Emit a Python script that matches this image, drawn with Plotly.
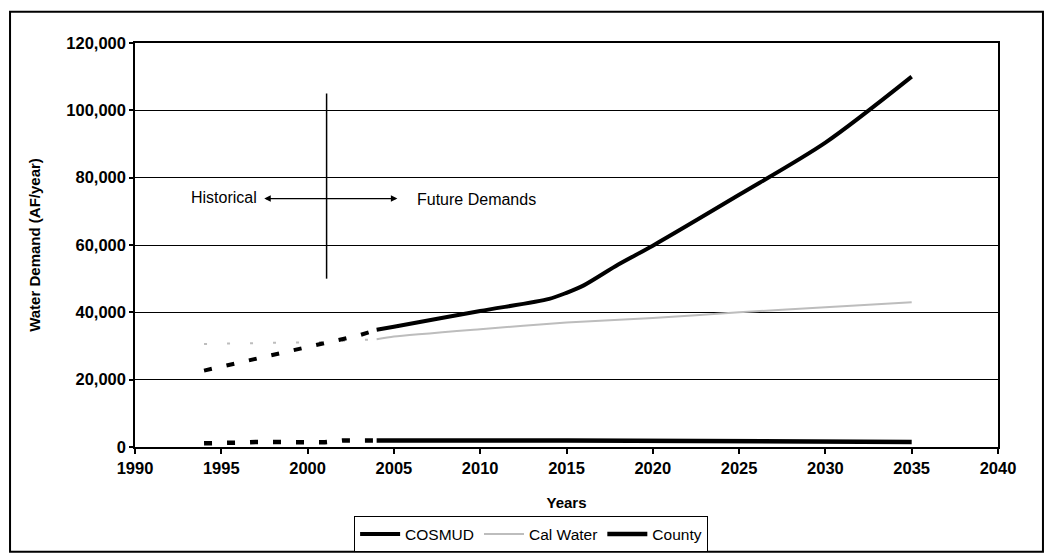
import plotly.graph_objects as go

# Historical demand (AF/year)
hist_years = [1994, 1995, 1996, 1997, 1998, 1999, 2000, 2001, 2002, 2003, 2004]
cosmud_hist = [22700, 23900, 25100, 26300, 27400, 28600, 29700, 30800, 32000, 33200, 34800]
calwater_hist = [30600, 30700, 30700, 30800, 30800, 30900, 31000, 31200, 31500, 31800, 32000]
county_hist = [1100, 1100, 1300, 1500, 1500, 1500, 1500, 1400, 1900, 1900, 1900]

# Projected demand (AF/year)
cosmud_years = [2004, 2005, 2010, 2014, 2015, 2016, 2018, 2020, 2025, 2030, 2035]
cosmud_future = [34800, 35700, 40400, 44000, 45800, 48000, 54200, 59800, 74900, 90400, 110000]
calwater_years = [2004, 2005, 2010, 2015, 2020, 2025, 2030, 2035]
calwater_future = [32000, 32800, 35000, 37000, 38300, 40000, 41500, 43000]
county_years = [2004, 2010, 2012, 2015, 2020, 2025, 2030, 2035]
county_future = [1900, 1700, 1900, 1900, 1800, 1700, 1600, 1500]

x_ticks = list(range(1990, 2041, 5))
y_ticks = list(range(0, 120001, 20000))

FONT = "Liberation Sans, Arial, sans-serif"
GRAY = "#bdbdbd"

fig = go.Figure()

# Historical series (dashed, not in legend)
fig.add_trace(go.Scatter(x=hist_years, y=calwater_hist, mode="lines", showlegend=False,
                         line=dict(color=GRAY, width=2, dash="3px,20px"), hoverinfo="skip"))
fig.add_trace(go.Scatter(x=hist_years, y=cosmud_hist, mode="lines", showlegend=False,
                         line=dict(color="black", width=4, dash="8px,15px"), hoverinfo="skip"))
fig.add_trace(go.Scatter(x=hist_years, y=county_hist, mode="lines", showlegend=False,
                         line=dict(color="black", width=4.5, dash="8px,15px"), hoverinfo="skip"))

# Projected series
fig.add_trace(go.Scatter(x=cosmud_years, y=cosmud_future, mode="lines", name="COSMUD",
                         line=dict(color="black", width=4, shape="spline", smoothing=0.8)))
fig.add_trace(go.Scatter(x=calwater_years, y=calwater_future, mode="lines", name="Cal Water",
                         line=dict(color=GRAY, width=2, shape="spline", smoothing=0.6)))
fig.add_trace(go.Scatter(x=county_years, y=county_future, mode="lines", name="County",
                         line=dict(color="black", width=4.5)))

# Divider between historical and projected periods
fig.add_shape(type="line", xref="x", yref="y", x0=2001.1, x1=2001.1, y0=50000, y1=105000,
              line=dict(color="black", width=1.5))

# Double-headed arrow with labels
fig.add_annotation(x=2005.2, y=73800, ax=1997.4, ay=73800, xref="x", yref="y",
                   axref="x", ayref="y", text="", showarrow=True,
                   arrowhead=2, startarrowhead=2, arrowside="end+start",
                   arrowsize=1, startarrowsize=1, arrowwidth=1.3, arrowcolor="black")
fig.add_annotation(x=1997.2, y=74000, xref="x", yref="y", text="Historical", showarrow=False,
                   xanchor="right", yanchor="middle", font=dict(family=FONT, size=16, color="black"))
fig.add_annotation(x=2006.2, y=73500, xref="x", yref="y", text="Future Demands", showarrow=False,
                   xanchor="left", yanchor="middle", font=dict(family=FONT, size=16, color="black"))

# Outer frame around the whole chart
fig.add_shape(type="rect", xref="paper", yref="paper", x0=-0.1448, x1=1.0521, y0=-0.259, y1=1.0775,
              line=dict(color="black", width=2))

fig.update_layout(
    width=1046, height=554,
    margin=dict(l=135, r=48, t=43, b=107, autoexpand=False),
    paper_bgcolor="white", plot_bgcolor="white",
    font=dict(family=FONT, color="black"),
    showlegend=True,
    legend=dict(orientation="h", x=0.459, xanchor="center", y=-0.172, yanchor="top",
                bordercolor="black", borderwidth=1, bgcolor="white",
                font=dict(family=FONT, size=15.5, color="black"),
                itemwidth=40, tracegroupgap=0),
)

fig.update_xaxes(
    range=[1990, 2040], tickvals=x_ticks, ticktext=[str(v) for v in x_ticks],
    ticks="outside", ticklen=5, tickwidth=1.5, tickcolor="black",
    tickfont=dict(family=FONT, size=16.5, color="black", weight="bold"),
    showgrid=False, zeroline=False, automargin=False,
    showline=True, linecolor="black", linewidth=1.5, mirror=True,
    title=dict(text="Years", font=dict(family=FONT, size=15, color="black", weight="bold"), standoff=22),
)
fig.update_yaxes(
    range=[0, 120000], tickvals=y_ticks, tickformat=",d",
    ticks="outside", ticklen=4, tickwidth=1.5, tickcolor="black",
    tickfont=dict(family=FONT, size=16.5, color="black", weight="bold"),
    showgrid=True, gridcolor="black", gridwidth=1.3, zeroline=False, automargin=False,
    showline=True, linecolor="black", linewidth=1.5, mirror=True,
    title=dict(text="Water Demand (AF/year)", font=dict(family=FONT, size=15, color="black", weight="bold"),
               standoff=22),
)

fig.write_html("out.html")
